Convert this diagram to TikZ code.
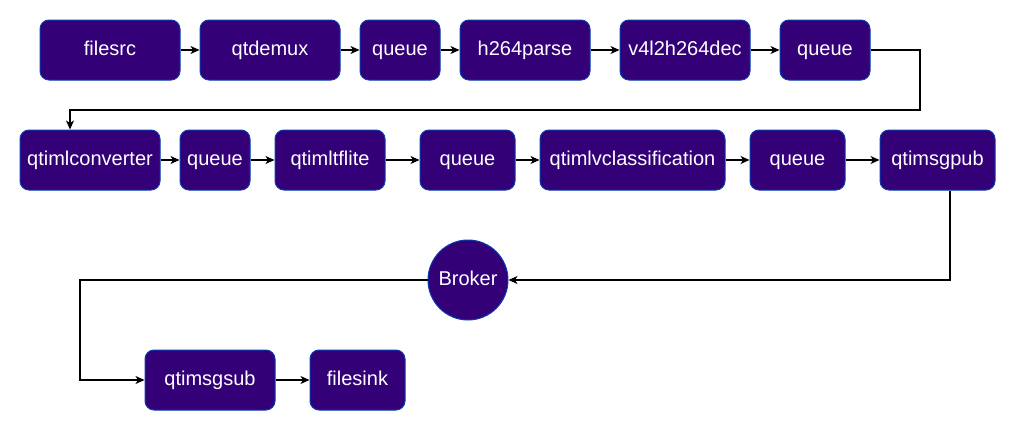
\documentclass[tikz,border=0pt]{standalone}
\usepackage{fontspec}
\setmainfont{Liberation Sans}
\usetikzlibrary{arrows.meta}
\definecolor{elemfill}{HTML}{330077}
\definecolor{elemline}{HTML}{0A3BB0}
\begin{document}
\begin{tikzpicture}[x=1pt,y=-1pt,
  elem/.style={draw=elemline, fill=elemfill, line width=1pt, rounded corners=9pt,
    text=white, minimum height=60pt, inner sep=0pt, text height=14pt, text depth=4pt,
    font=\fontsize{20}{24}\selectfont},
  link/.style={-{Stealth[length=9pt,width=8pt,inset=2.5pt]}, line width=1.3pt}]
\useasboundingbox (0,0) rectangle (1016,431);
\node[elem, minimum width=140pt] (filesrc) at (110,50) {filesrc};
\node[elem, minimum width=140pt] (demux) at (270,50) {qtdemux};
\node[elem, minimum width=80pt] (queueA) at (400,50) {queue};
\node[elem, minimum width=130pt] (parse) at (525,50) {h264parse};
\node[elem, minimum width=130pt] (dec) at (685,50) {v4l2h264dec};
\node[elem, minimum width=90pt] (queueB) at (825,50) {queue};
\node[elem, minimum width=140pt] (conv) at (90,160) {qtimlconverter};
\node[elem, minimum width=70pt] (queueC) at (215,160) {queue};
\node[elem, minimum width=110pt] (tflite) at (330,160) {qtimltflite};
\node[elem, minimum width=95pt] (queueD) at (467.5,160) {queue};
\node[elem, minimum width=185pt] (classif) at (632.5,160) {qtimlvclassification};
\node[elem, minimum width=95pt] (queueE) at (797.5,160) {queue};
\node[elem, minimum width=115pt] (pub) at (937.5,160) {qtimsgpub};
\node[elem, circle, minimum size=80pt] (broker) at (468,280) {Broker};
\node[elem, minimum width=130pt] (sub) at (210,380) {qtimsgsub};
\node[elem, minimum width=95pt] (sink) at (357.5,380) {filesink};
\coordinate (wrapA) at (920,110);
\coordinate (wrapB) at (80,380);
\draw[link] (filesrc) -- (demux);
\draw[link] (demux) -- (queueA);
\draw[link] (queueA) -- (parse);
\draw[link] (parse) -- (dec);
\draw[link] (dec) -- (queueB);
\draw[link] (queueB.east) -| (wrapA) -| ([xshift=-20pt]conv.north);
\draw[link] (conv) -- (queueC);
\draw[link] (queueC) -- (tflite);
\draw[link] (tflite) -- (queueD);
\draw[link] (queueD) -- (classif);
\draw[link] (classif) -- (queueE);
\draw[link] (queueE) -- (pub);
\draw[link] ([xshift=12.5pt]pub.south) |- (broker);
\draw[link] (broker) -| (wrapB) -- (sub);
\draw[link] (sub) -- (sink);
\end{tikzpicture}
\end{document}
